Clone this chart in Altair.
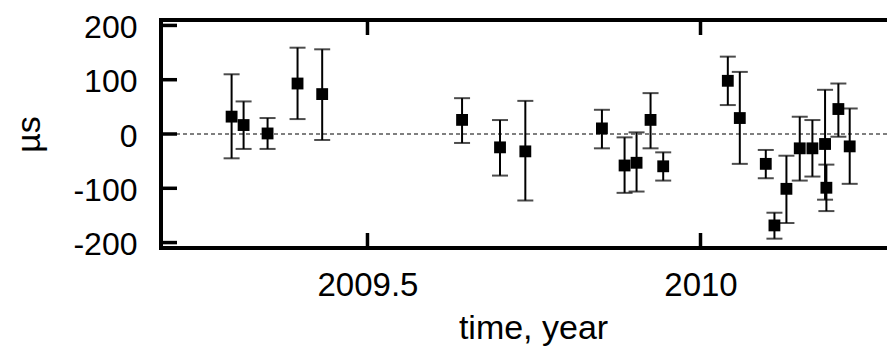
import altair as alt
import pandas as pd

# time (years), value (µs), lower and upper error bar ends (µs)
t = [2009.296, 2009.314, 2009.350, 2009.395, 2009.432, 2009.642, 2009.699, 2009.737,
     2009.852, 2009.886, 2009.904, 2009.925, 2009.944, 2010.041, 2010.059, 2010.098,
     2010.111, 2010.129, 2010.149, 2010.168, 2010.187, 2010.189, 2010.207, 2010.224]
val = [32, 16.5, 1, 93, 73.5, 26, -24.6, -32, 10.3, -58, -53, 26, -59.5, 98, 29.4, -55,
       -168.4, -101, -26.4, -26.4, -18.4, -99, 46, -22.8]
lo = [-44.8, -27.5, -27.5, 27.5, -11, -16.5, -76.6, -122.5, -26.4, -108.4, -106, -26.4,
      -85.8, 53.3, -55, -81.5, -192.8, -164, -85.8, -78.4, -121, -142, -5, -91.8]
hi = [110, 60, 29.4, 159, 156, 66, 25.7, 61, 44.6, -6.2, 3, 75.3, -33.8, 142.5, 114.4,
      -29.4, -145, -40, 31.8, 25.7, 81.4, -56.4, 93, 47]

x_ticks = [2009.5, 2010]
y_ticks = [-200, -100, 0, 100, 200]
zero = [0]

df = pd.DataFrame({"t": t, "v": val, "lo": lo, "hi": hi})
dfx = pd.DataFrame({"t": x_ticks})
dfy = pd.DataFrame({"v": y_ticks})
dfz = pd.DataFrame({"v": zero})

# plot area: the reference is cropped at its right edge, so the frame is open there
W, H = 726, 228
TL = 15
FW = 4
FONT = "Liberation Sans"

xs = alt.Scale(domain=[2009.19, 2010.28], nice=False, zero=False)
ys = alt.Scale(domain=[-210, 210], nice=False, zero=False)

xaxis = alt.Axis(values=x_ticks, labelExpr="'' + datum.value", grid=False, ticks=False,
                 domain=False, labelPadding=21, labelFontSize=33, labelFont=FONT,
                 labelColor="black", title="time, year", titleFontSize=34, titleFont=FONT,
                 titleFontWeight="normal", titleColor="black", titleX=372, titleY=90,
                 titleAlign="center", titleBaseline="alphabetic", labelFlush=False)
yaxis = alt.Axis(values=y_ticks, labelExpr="'' + datum.value", grid=False, ticks=False,
                 domain=False, labelPadding=24, labelFontSize=32, labelFont=FONT,
                 labelOffset=2, labelColor="black", title="µs", titleFontSize=34,
                 titleFont=FONT, titleFontWeight="normal", titleColor="black",
                 titleX=-122, titleY=H / 2, titleAngle=270, titleAlign="center",
                 titleBaseline="alphabetic", labelFlush=False)

X = alt.X("t:Q", scale=xs, axis=xaxis)
Y = alt.Y("v:Q", scale=ys, axis=yaxis)

zline = alt.Chart(dfz).mark_rule(color="black", strokeWidth=1.2, strokeDash=[4, 3]).encode(y=Y)

bars = alt.Chart(df).mark_rule(color="black", strokeWidth=2).encode(
    x=X, y=alt.Y("lo:Q", scale=ys, axis=yaxis), y2="hi:Q")

cap_lo = alt.Chart(df).mark_tick(color="black", thickness=2, size=16, orient="horizontal").encode(
    x=X, y=alt.Y("lo:Q", scale=ys, axis=yaxis))
cap_hi = alt.Chart(df).mark_tick(color="black", thickness=2, size=16, orient="horizontal").encode(
    x=X, y=alt.Y("hi:Q", scale=ys, axis=yaxis))

pts = alt.Chart(df).mark_point(shape="square", filled=True, size=140, color="black", opacity=1).encode(
    x=X, y=Y)

# frame (top, bottom, left)
frame_style = dict(color="black", strokeWidth=FW, strokeCap="square")
f_top = alt.Chart(dfz).mark_rule(**frame_style).encode(x=alt.value(0), x2=alt.value(W), y=alt.value(0))
f_bot = alt.Chart(dfz).mark_rule(**frame_style).encode(x=alt.value(0), x2=alt.value(W), y=alt.value(H))
f_left = alt.Chart(dfz).mark_rule(**frame_style).encode(x=alt.value(0), y=alt.value(0), y2=alt.value(H))

tick_style = dict(color="black", strokeWidth=3.5)
xt_bottom = alt.Chart(dfx).mark_rule(**tick_style).encode(x=X, y=alt.value(H), y2=alt.value(H - TL))
xt_top = alt.Chart(dfx).mark_rule(**tick_style).encode(x=X, y=alt.value(0), y2=alt.value(TL))
yt_left = alt.Chart(dfy).mark_rule(**tick_style).encode(y=Y, x=alt.value(0), x2=alt.value(TL + 1))

chart = alt.layer(pts, zline, bars, cap_lo, cap_hi, f_top, f_bot, f_left,
                  xt_bottom, xt_top, yt_left).properties(
    width=W, height=H,
    autosize=alt.AutoSizeParams(type="none"),
    padding={"left": 153, "top": 12, "right": 0, "bottom": 98},
).configure_view(stroke=None)

chart.save("out.html", embed_options={"renderer": "svg", "actions": False})
